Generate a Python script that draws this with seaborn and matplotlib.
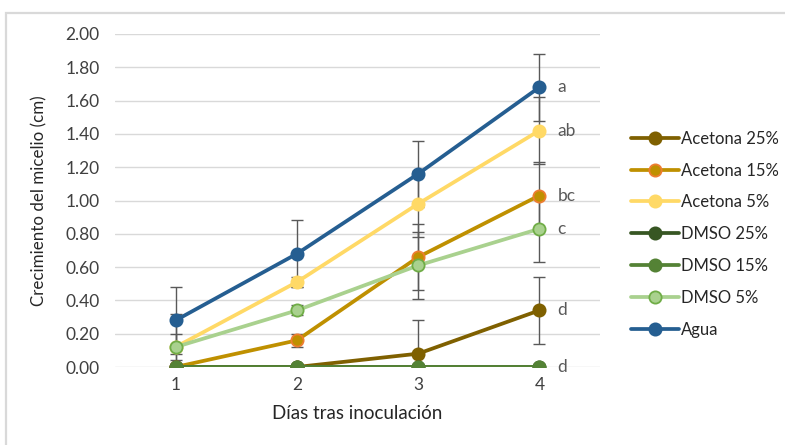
import numpy as np
import pandas as pd
import matplotlib
matplotlib.use("Agg")
import matplotlib.pyplot as plt
from matplotlib.patches import Rectangle
from matplotlib.lines import Line2D
import seaborn as sns

# Days after inoculation
days = [1, 2, 3, 4]

# Mean mycelial growth (cm) per treatment
acetona_25 = [0.00, 0.00, 0.08, 0.34]
acetona_15 = [0.00, 0.16, 0.66, 1.03]
acetona_5 = [0.12, 0.51, 0.98, 1.42]
dmso_25 = [0.00, 0.00, 0.00, 0.00]
dmso_15 = [0.00, 0.00, 0.00, 0.00]
dmso_5 = [0.12, 0.34, 0.61, 0.83]
agua = [0.28, 0.68, 1.16, 1.68]

# Error bar half-lengths (cm)
err_acetona_25 = [0.00, 0.00, 0.20, 0.20]
err_acetona_15 = [0.00, 0.04, 0.20, 0.20]
err_acetona_5 = [0.08, 0.03, 0.20, 0.20]
err_dmso_25 = [0.00, 0.00, 0.00, 0.00]
err_dmso_15 = [0.00, 0.00, 0.00, 0.00]
err_dmso_5 = [0.20, 0.03, 0.20, 0.20]
err_agua = [0.20, 0.20, 0.20, 0.20]

series_names = ["Acetona 25%", "Acetona 15%", "Acetona 5%",
                "DMSO 25%", "DMSO 15%", "DMSO 5%", "Agua"]
series_values = [acetona_25, acetona_15, acetona_5, dmso_25, dmso_15, dmso_5, agua]
series_errors = [err_acetona_25, err_acetona_15, err_acetona_5,
                 err_dmso_25, err_dmso_15, err_dmso_5, err_agua]

# Significance letters at day 4
letters = ["a", "ab", "bc", "c", "d", "d"]
letter_values = [agua[3], acetona_5[3], acetona_15[3], dmso_5[3], acetona_25[3], dmso_15[3]]

line_colors = ["#7F6000", "#BF9000", "#FFD966", "#375623", "#548235", "#A9D18E", "#255E91"]
edge_colors = ["#7F6000", "#ED7D31", "#FFD966", "#375623", "#548235", "#70AD47", "#255E91"]

df = pd.DataFrame({
    "dia": np.tile(days, len(series_names)),
    "crecimiento": np.concatenate(series_values),
    "error": np.concatenate(series_errors),
    "tratamiento": np.repeat(series_names, len(days)),
})

sns.set_theme(style="white")
plt.rcParams["font.family"] = ["Lato", "DejaVu Sans"]

fig = plt.figure(figsize=(7.85, 4.45), dpi=100)
ax = fig.add_axes([115 / 785, 1 - 367 / 445, 485 / 785, 333 / 445])

# Outer chart frame
fig.add_artist(Rectangle((6 / 785, -0.2), 1.2, 1.2 - 13 / 445,
                         transform=fig.transFigure, fill=False,
                         edgecolor="#D9D9D9", linewidth=1.6, zorder=0))

# Error bars
for name in series_names:
    sub = df[(df["tratamiento"] == name) & (df["error"] > 0)]
    if len(sub):
        ax.errorbar(sub["dia"], sub["crecimiento"], yerr=sub["error"], fmt="none",
                    ecolor="#595959", elinewidth=1.0, capsize=4, capthick=1.0, zorder=2)

# Lines with markers
for name, lc, ec in zip(series_names, line_colors, edge_colors):
    sub = df[df["tratamiento"] == name]
    sns.lineplot(data=sub, x="dia", y="crecimiento", ax=ax, color=lc,
                 linewidth=2.7, marker="o", markersize=8.8,
                 markerfacecolor=lc, markeredgecolor=ec, markeredgewidth=1.3,
                 zorder=3, legend=False)

# Letters
for txt, val in zip(letters, letter_values):
    ax.text(4.15, val, txt, ha="left", va="center", fontsize=12.5, color="#595959")

ax.set_xlim(0.5, 4.5)
ax.set_ylim(0, 2.0)
ax.set_xticks(days)
ax.set_xticklabels([str(d) for d in days])
yt = np.arange(0, 2.01, 0.2)
ax.set_yticks(yt)
ax.set_yticklabels([f"{v:.2f}" for v in yt])
ax.tick_params(axis="both", length=0, labelsize=12.5, labelcolor="#404040")
ax.tick_params(axis="y", pad=11)
ax.tick_params(axis="x", pad=7)
ax.grid(axis="y", color="#D9D9D9", linewidth=1.0)
ax.grid(axis="x", visible=False)
ax.set_axisbelow(True)
for s in ax.spines.values():
    s.set_visible(False)

ax.set_xlabel("Días tras inoculación", fontsize=13.5, color="#262626", labelpad=9)
ax.set_ylabel("Crecimiento del micelio (cm)", fontsize=12.2, color="#262626")
ax.yaxis.set_label_coords(-0.14, 0.5)

handles = [Line2D([0], [0], color=lc, linewidth=2.7, marker="o", markersize=8.8,
                  markerfacecolor=lc, markeredgecolor=ec, markeredgewidth=1.3)
           for lc, ec in zip(line_colors, edge_colors)]
leg = fig.legend(handles, series_names, loc="upper left",
                 bbox_to_anchor=(624 / 785, 1 - 124 / 445), frameon=False,
                 fontsize=12, handlelength=2.9, handletextpad=0.1,
                 labelspacing=0.95, borderaxespad=0)
for t in leg.get_texts():
    t.set_color("#262626")

fig.savefig("out.png", dpi=100)
